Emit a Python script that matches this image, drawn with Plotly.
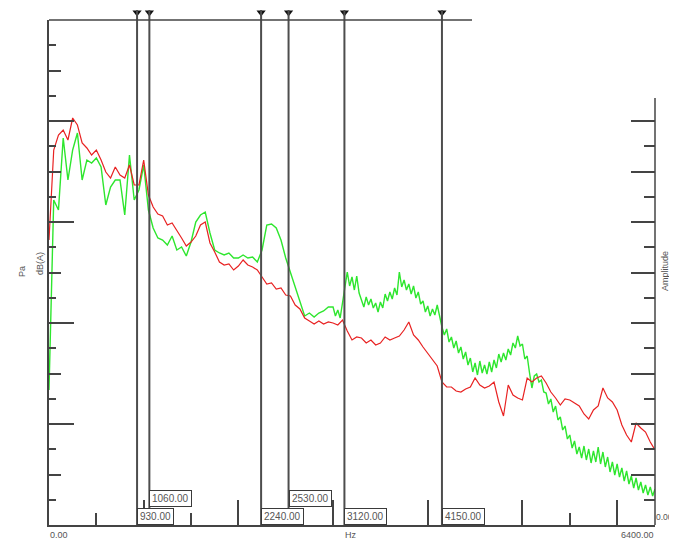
import plotly.graph_objects as go

# ---------------- data ----------------
red_freqs = [i * 50 for i in range(129)]  # Hz, 0 .. 6400

red_vals = [
    57.0, 75.0, 78.0, 79.0, 77.0, 81.4, 80.0, 76.4, 75.4, 74.0,
    75.0, 73.0, 70.6, 69.4, 71.6, 70.0, 69.4, 72.0, 68.0, 68.0,
    73.0, 66.0, 63.6, 62.2, 61.8, 60.0, 60.4, 59.0, 57.4, 55.8,
    56.6, 57.8, 60.0, 60.6, 56.4, 54.6, 52.6, 52.0, 52.2, 51.0,
    51.8, 53.0, 52.0, 51.6, 51.0, 49.6, 48.2, 48.4, 47.2, 47.4,
    46.0, 45.8, 44.0, 43.2, 41.4, 40.8, 40.2, 40.8, 40.2, 40.6,
    40.4, 40.0, 41.0, 38.8, 37.0, 37.6, 37.4, 36.4, 37.0, 36.0,
    36.4, 37.6, 37.0, 37.4, 37.8, 39.0, 40.6, 38.0, 37.0, 35.6,
    34.4, 33.2, 31.8, 28.6, 27.6, 27.6, 26.8, 26.6, 27.2, 27.6,
    29.4, 28.0, 27.4, 27.8, 28.6, 24.6, 21.8, 28.0, 26.0, 25.4,
    25.0, 29.4, 28.6, 29.4, 29.8, 28.4, 26.6, 25.4, 24.0, 25.2,
    25.0, 24.4, 23.8, 22.2, 21.2, 23.0, 23.8, 27.4, 25.4, 24.6,
    23.0, 20.0, 18.0, 16.6, 20.4, 19.4, 18.6, 16.6, 15.0,
]

# green: 50 Hz steps below 3000 Hz, 25 Hz steps from 3000 Hz
green_freqs_lo = [i * 50 for i in range(60)]          # 0 .. 2950
green_vals_lo = [
    27.0, 65.0, 63.0, 77.4, 69.0, 75.0, 78.4, 69.0, 73.0, 72.4,
    73.4, 71.6, 64.0, 67.6, 69.0, 69.0, 62.0, 74.0, 65.0, 67.0,
    72.0, 63.0, 59.4, 57.4, 57.0, 56.0, 57.8, 55.0, 55.6, 53.8,
    56.6, 60.6, 62.0, 62.6, 58.4, 55.0, 54.4, 54.0, 54.4, 53.4,
    53.4, 54.0, 53.4, 53.6, 52.6, 55.0, 60.0, 60.2, 59.4, 57.0,
    53.4, 50.4, 47.6, 44.6, 41.8, 42.4, 41.6, 42.4, 42.8, 43.6,
]
green_freqs_hi = [3000 + k * 25 for k in range(137)]  # 3000 .. 6400
green_vals_hi = [
    43.6, 41.8, 43.0, 41.4, 44.2, 47.0, 50.6, 47.8,
    49.6, 47.0, 49.8, 46.4, 45.2, 43.6, 45.6, 44.0,
    45.2, 43.4, 44.4, 42.6, 44.6, 43.4, 46.2, 44.8,
    46.6, 45.2, 47.4, 46.0, 50.6, 47.6, 49.0, 47.0,
    48.2, 46.2, 47.8, 45.4, 46.6, 44.2, 44.8, 42.6,
    43.8, 41.8, 43.2, 42.0, 44.0, 41.6, 39.6, 38.0,
    39.2, 36.6, 37.6, 35.4, 36.8, 34.4, 35.6, 33.2,
    34.6, 32.0, 33.4, 30.6, 32.4, 30.0, 32.8, 30.4,
    32.0, 30.2, 32.6, 30.6, 33.0, 31.4, 34.2, 32.6,
    34.4, 33.0, 35.2, 34.0, 36.4, 35.4, 37.8, 35.8,
    36.2, 33.2, 33.8, 30.4, 27.4, 29.8, 30.2, 28.6,
    29.0, 26.6, 26.4, 24.2, 25.2, 22.6, 23.8, 21.0,
    21.6, 19.0, 19.8, 17.2, 18.0, 15.4, 16.8, 14.2,
    15.6, 13.4, 15.8, 13.0, 15.2, 12.4, 14.8, 12.6,
    15.6, 12.2, 14.6, 11.6, 13.6, 10.6, 12.6, 10.0,
    12.2, 9.6, 11.4, 8.8, 10.8, 8.2, 9.8, 7.4,
    9.4, 7.0, 8.6, 6.4, 8.0, 6.0, 7.6, 5.8,
    7.2,
]
green_freqs = green_freqs_lo + green_freqs_hi
green_vals = green_vals_lo + green_vals_hi

markers = [930, 1060, 2240, 2530, 3120, 4150]
marker_labels = ["930.00", "1060.00", "2240.00", "2530.00", "3120.00", "4150.00"]
marker_rows = [0, 1, 0, 1, 0, 0]

x_min, x_max = 0, 6400
y_min, y_max = 0, 101

# ---------------- figure ----------------
AX = "#444444"
TXT = "#555555"
FONT = "Liberation Sans, Arial, sans-serif"

# page body has an 8 px margin: the plot area spans x 49..655, y 8..525 (viewport px)
PLOT_TOP, PLOT_BOT = 8, 525
H = PLOT_BOT - PLOT_TOP
MAIN_TOP = (PLOT_BOT - 20) / H   # main data domain top (viewport y = 20)


def px_x(p):
    return (p - 49) / 606


def px_y(p):
    return (PLOT_BOT - p) / H


fig = go.Figure()

fig.add_trace(go.Scatter(x=green_freqs, y=green_vals, mode="lines",
                         line=dict(color="#2ee62e", width=1.4),
                         showlegend=False, hoverinfo="skip"))
fig.add_trace(go.Scatter(x=red_freqs, y=red_vals, mode="lines",
                         line=dict(color="#e82222", width=1.2),
                         showlegend=False, hoverinfo="skip"))

# dummy traces for extra tick axes
fig.add_trace(go.Scatter(x=[None], y=[None], yaxis="y2", showlegend=False, hoverinfo="skip"))
fig.add_trace(go.Scatter(x=[None], y=[None], yaxis="y3", showlegend=False, hoverinfo="skip"))

# marker triangles in a thin strip above the data area
fig.add_trace(go.Scatter(x=markers, y=[0.62] * len(markers), yaxis="y4", mode="markers",
                         marker=dict(symbol="triangle-down", size=8, color="#111111"),
                         cliponaxis=False, showlegend=False, hoverinfo="skip"))

# marker lines
for m in markers:
    fig.add_shape(type="line", xref="x", yref="paper", x0=m, x1=m, y0=0, y1=px_y(10),
                  line=dict(color="#4d4d4d", width=2), layer="above")

# top frame line (partial)
fig.add_shape(type="line", xref="paper", yref="paper", x0=0, x1=px_x(472),
              y0=MAIN_TOP, y1=MAIN_TOP, line=dict(color=AX, width=1.5))
# right amplitude axis line
fig.add_shape(type="line", xref="paper", yref="y", x0=1, x1=1, y0=0, y1=85.4,
              line=dict(color=AX, width=1.5))

# marker label boxes
row_y = {0: 0.0, 1: 18 / H}
for m, lab, r in zip(markers, marker_labels, marker_rows):
    fig.add_annotation(x=m, xref="x", y=row_y[r], yref="paper",
                       xanchor="left", yanchor="bottom", text=lab, showarrow=False,
                       font=dict(family=FONT, size=10, color=TXT),
                       bgcolor="white", bordercolor="#3a3a3a", borderwidth=1, borderpad=2)

texts = [
    ("0.00", 0.0, px_y(535), "left", 0, 9),
    ("Hz", px_x(351), px_y(535), "center", 0, 9),
    ("6400.00", 1.0, px_y(535), "right", 0, 9),
    ("0.00", px_x(655), px_y(517), "left", 0, 8.5),
    ("Pa", px_x(22), px_y(272), "center", -90, 9),
    ("dB(A)", px_x(40), px_y(264), "center", -90, 9),
    ("Amplitude", px_x(665), px_y(271), "center", -90, 9),
]
for t, x, y, xa, ang, fs in texts:
    fig.add_annotation(x=x, y=y, xref="paper", yref="paper", text=t, showarrow=False,
                       xanchor=xa, yanchor="middle", textangle=ang, borderpad=0,
                       font=dict(family=FONT, size=fs, color=TXT))

tick_common = dict(showgrid=False, zeroline=False, showticklabels=False)

fig.update_layout(
    width=677, height=541, autosize=False,
    margin=dict(l=41, r=30, t=0, b=24, pad=0),
    paper_bgcolor="white", plot_bgcolor="rgba(0,0,0,0)",
    font=dict(family=FONT, color=TXT),
    xaxis=dict(range=[x_min, x_max], showline=True, linecolor=AX, linewidth=1.5,
               ticks="inside", tickcolor=AX, tickwidth=1.5, ticklen=25,
               tick0=0, dtick=1000, anchor="y",
               minor=dict(ticks="inside", tick0=0, dtick=500, ticklen=12,
                          tickcolor=AX, tickwidth=1.5),
               **tick_common),
    yaxis=dict(range=[y_min, y_max], domain=[0, MAIN_TOP],
               showline=True, linecolor=AX, linewidth=1.5,
               ticks="inside", tickcolor=AX, tickwidth=1.5, ticklen=25,
               tick0=0, dtick=20.2,
               minor=dict(ticks="inside", tick0=0, dtick=10.1, ticklen=12,
                          tickcolor=AX, tickwidth=1.5),
               **tick_common),
    yaxis3=dict(range=[y_min, y_max], overlaying="y", side="left", anchor="x",
                showline=False, ticks="inside", tickcolor=AX, tickwidth=1.5, ticklen=7,
                tick0=0, dtick=5.05, **tick_common),
    yaxis2=dict(range=[y_min, y_max], overlaying="y", side="right", anchor="x",
                showline=False, ticks="inside", tickcolor=AX, tickwidth=1.5, ticklen=24,
                tickmode="array", tickvals=[10.1 * k for k in range(9)],
                minor=dict(ticks="inside", tickmode="array",
                           tickvals=[5.05 * k for k in range(1, 17, 2)],
                           ticklen=11, tickcolor=AX, tickwidth=1.5),
                **tick_common),
    yaxis4=dict(range=[0, 1], domain=[MAIN_TOP, 1], anchor="x", visible=False,
                showgrid=False, zeroline=False),
)

fig.write_html("out.html")
